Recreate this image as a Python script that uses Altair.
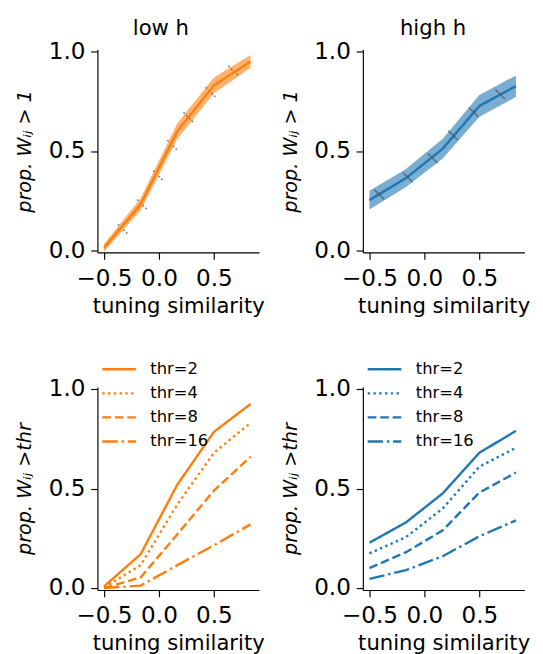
import altair as alt
import pandas as pd

ORANGE = "#ff7f0e"
BLUE = "#1f77b4"
FONT = "DejaVu Sans"

# ---- data ----
x_bins = [-0.5, -0.167, 0.167, 0.5, 0.833]

low_mean = [0.013, 0.232, 0.60, 0.83, 0.95]
low_err = [0.02, 0.03, 0.04, 0.04, 0.033]
high_mean = [0.253, 0.364, 0.512, 0.727, 0.826]
high_err = [0.047, 0.045, 0.05, 0.055, 0.054]

low_tick_x = [-0.33, -0.155, -0.01, 0.12, 0.266, 0.47, 0.675]
low_tick_y = [0.108, 0.232, 0.378, 0.53, 0.67, 0.796, 0.904]
high_tick_x = [-0.41, -0.15, 0.076, 0.26, 0.45, 0.69]
high_tick_y = [0.281, 0.367, 0.463, 0.579, 0.694, 0.785]

thr_labels = ["thr=2", "thr=4", "thr=8", "thr=16"]
low_thr2 = [0.008, 0.17, 0.52, 0.785, 0.925]
low_thr4 = [0.003, 0.115, 0.42, 0.68, 0.83]
low_thr8 = [0.0, 0.053, 0.27, 0.49, 0.66]
low_thr16 = [0.0, 0.012, 0.115, 0.215, 0.32]
high_thr2 = [0.228, 0.33, 0.476, 0.68, 0.79]
high_thr4 = [0.174, 0.256, 0.40, 0.61, 0.705]
high_thr8 = [0.10, 0.18, 0.29, 0.48, 0.58]
high_thr16 = [0.046, 0.09, 0.16, 0.26, 0.34]

x_ticks = [-0.5, 0.0, 0.5]
y_ticks = [0.0, 0.5, 1.0]

W, H = 168, 211
xscale = alt.Scale(domain=[-0.56, 0.91], nice=False, zero=False)
yscale = alt.Scale(domain=[-0.01, 1.01], nice=False, zero=False)

def xaxis():
    return alt.Axis(values=x_ticks, format=".1f", title="tuning similarity",
                    grid=False, titlePadding=6, labelPadding=8, titleFontSize=22)

def yaxis(title):
    return alt.Axis(values=y_ticks, format=".1f", title=title, grid=False,
                    titleFontStyle="italic", titlePadding=14, labelPadding=6,
                    titleFontSize=20, labelFlush=False)

def top_panel(mean, err, tx, ty, color, title, under, tdx):
    df = pd.DataFrame({"x": x_bins, "y": mean,
                       "lo": [m - e for m, e in zip(mean, err)],
                       "hi": [m + e for m, e in zip(mean, err)]})
    tdf = pd.DataFrame({"x": tx, "y": ty})
    base = alt.Chart(df)
    band = base.mark_area(color=color, opacity=0.6).encode(
        x=alt.X("x:Q", scale=xscale, axis=xaxis()),
        y=alt.Y("lo:Q", scale=yscale, axis=yaxis("prop. Wᵢⱼ > 1")),
        y2="hi:Q")
    line = base.mark_line(color=color, strokeWidth=2.5).encode(x="x:Q", y="y:Q")
    ticks = alt.Chart(tdf).mark_point(shape="M -1 -1 L 1 1", size=100, filled=False,
                                      color="#555555", opacity=0.75, strokeWidth=1.5,
                                      strokeDash=[2, 2] if under else [1, 0]).encode(
        x="x:Q", y="y:Q")
    layers = [band, ticks, line] if under else [band, line, ticks]
    return alt.layer(*layers).properties(
        width=W, height=H,
        title=alt.TitleParams(title, frame="group", baseline="alphabetic",
                              offset=-17, dx=tdx))

def bottom_panel(series, color):
    rows = []
    for lab, vals in zip(thr_labels, series):
        for xv, yv in zip(x_bins, vals):
            rows.append({"x": xv, "y": yv, "thr": lab})
    df = pd.DataFrame(rows)
    return alt.Chart(df).mark_line(color=color, strokeWidth=2.5).encode(
        x=alt.X("x:Q", scale=xscale, axis=xaxis()),
        y=alt.Y("y:Q", scale=yscale, axis=yaxis("prop. Wᵢⱼ >thr")),
        strokeDash=alt.StrokeDash(
            "thr:N",
            scale=alt.Scale(domain=thr_labels,
                            range=[[1, 0], [2.5, 3.5], [9, 4], [16, 4, 2.5, 4]]),
            legend=alt.Legend(title=None, orient="none", legendX=14, legendY=-27,
                              symbolType="M -3 0 L 3 0", symbolSize=136,
                              symbolStrokeColor=color, symbolStrokeWidth=2.5,
                              symbolFillColor="transparent",
                              labelFontSize=17, labelFont=FONT, labelColor="black",
                              labelOffset=24, rowPadding=7)),
        detail="thr:N",
    ).properties(width=W, height=H)

top = alt.hconcat(
    top_panel(low_mean, low_err, low_tick_x, low_tick_y, ORANGE, "low h", True, -18),
    top_panel(high_mean, high_err, high_tick_x, high_tick_y, BLUE, "high h", False, -11),
    spacing=16)
bottom = alt.hconcat(
    bottom_panel([low_thr2, low_thr4, low_thr8, low_thr16], ORANGE),
    bottom_panel([high_thr2, high_thr4, high_thr8, high_thr16], BLUE),
    spacing=16).resolve_scale(strokeDash="independent")

chart = alt.vconcat(top, bottom, spacing=47).properties(
    padding={"left": 7, "top": -3, "right": 5, "bottom": 5}
).configure_view(stroke=None).configure_axis(
    domainColor="black", domainWidth=1.2, tickColor="black", tickWidth=1.2,
    tickSize=7, labelFont=FONT, labelFontSize=24, labelColor="black",
    titleFont=FONT, titleColor="black", titleFontWeight="normal"
).configure_title(font=FONT, fontSize=22, fontWeight="normal", color="black",
                  anchor="middle").configure_legend(labelLimit=200)

chart.save("out.html", embed_options={"renderer": "svg", "actions": False})
